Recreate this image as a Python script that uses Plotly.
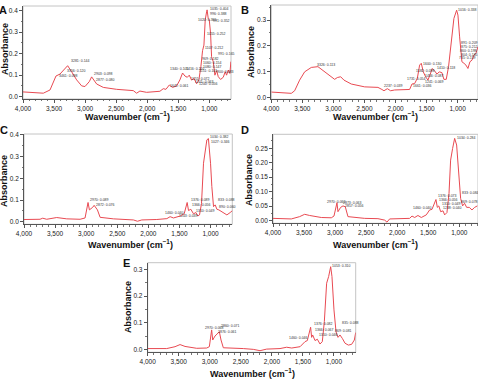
import plotly.graph_objects as go

# ---------------- data ----------------
A_wn = [4000, 3673, 3565, 3512, 3469, 3405, 3351, 3281, 3217, 3136, 3055, 3002, 2932, 2895, 2814, 2707,
        2492, 2224, 2170, 2117, 2010, 1795, 1741, 1698, 1644, 1591, 1526, 1473, 1430, 1392, 1354, 1322,
        1285, 1247, 1204, 1167, 1135, 1108, 1086, 1065, 1043, 1035, 1017, 1000, 979, 963, 936, 909,
        882, 855, 818, 775, 743, 721, 694, 668, 652]
A_abs = [0.022, 0.016, 0.031, 0.070, 0.096, 0.105, 0.124, 0.144, 0.116, 0.078, 0.050, 0.047, 0.070, 0.092, 0.059, 0.043,
         0.034, 0.028, 0.016, 0.026, 0.020, 0.025, 0.037, 0.034, 0.054, 0.043, 0.050, 0.078, 0.110, 0.096, 0.090, 0.100,
         0.077, 0.085, 0.060, 0.078, 0.140, 0.214, 0.240, 0.357, 0.395, 0.404, 0.364, 0.357, 0.295, 0.186, 0.163, 0.100,
         0.121, 0.093, 0.080, 0.090, 0.116, 0.100, 0.124, 0.108, 0.163]

B_wn = [4000, 3678, 3624, 3544, 3463, 3356, 3249, 3141, 3034, 2980, 2937, 2883, 2830, 2712, 2497, 2283,
        2219, 2186, 2132, 2079, 2014, 1853, 1773, 1735, 1692, 1649, 1612, 1585, 1553, 1515, 1478, 1446,
        1408, 1371, 1333, 1296, 1253, 1221, 1183, 1146, 1103, 1060, 1016, 995, 968, 931, 898, 866,
        834, 802, 769, 737, 705, 673]
B_abs = [0.022, 0.017, 0.027, 0.068, 0.100, 0.117, 0.120, 0.100, 0.078, 0.071, 0.078, 0.081, 0.068, 0.053, 0.042, 0.040,
         0.032, 0.027, 0.035, 0.027, 0.030, 0.032, 0.032, 0.053, 0.055, 0.075, 0.126, 0.133, 0.100, 0.081, 0.068, 0.088,
         0.113, 0.104, 0.091, 0.100, 0.097, 0.071, 0.071, 0.120, 0.223, 0.306, 0.338, 0.319, 0.235, 0.139, 0.133, 0.126,
         0.113, 0.139, 0.145, 0.165, 0.171, 0.197]

C_wn = [4000, 3742, 3699, 3635, 3474, 3313, 3098, 3018, 2970, 2948, 2895, 2872, 2819, 2776, 2562, 2240,
        2175, 2106, 1864, 1703, 1650, 1596, 1489, 1424, 1376, 1354, 1317, 1274, 1236, 1204, 1177, 1145,
        1113, 1086, 1059, 1034, 1020, 1000, 979, 952, 925, 898, 866, 818, 737, 684, 647]
C_abs = [0.011, 0.012, 0.017, 0.012, 0.020, 0.014, 0.012, 0.018, 0.089, 0.055, 0.067, 0.076, 0.055, 0.021, 0.014, 0.009,
         0.003, 0.009, 0.011, 0.015, 0.024, 0.018, 0.027, 0.037, 0.089, 0.052, 0.058, 0.037, 0.043, 0.027, 0.032, 0.085,
         0.269, 0.330, 0.376, 0.382, 0.345, 0.269, 0.162, 0.070, 0.078, 0.058, 0.055, 0.047, 0.032, 0.043, 0.052]

D_wn = [4000, 3705, 3571, 3490, 3410, 3222, 3061, 3018, 2970, 2954, 2911, 2873, 2836, 2793, 2524, 2310,
        2202, 2165, 2122, 1934, 1800, 1762, 1719, 1666, 1612, 1532, 1478, 1440, 1376, 1354, 1330, 1300,
        1262, 1236, 1199, 1166, 1140, 1108, 1075, 1043, 1011, 979, 947, 915, 882, 839, 796, 753, 710]
D_abs = [0.008, 0.006, 0.014, 0.022, 0.018, 0.011, 0.010, 0.016, 0.062, 0.031, 0.046, 0.051, 0.048, 0.014, 0.008, 0.007,
         0.002, -0.005, 0.006, 0.007, 0.008, 0.016, 0.011, 0.018, 0.011, 0.020, 0.037, 0.039, 0.073, 0.046, 0.051, 0.031,
         0.034, 0.020, 0.028, 0.094, 0.209, 0.249, 0.284, 0.261, 0.163, 0.077, 0.051, 0.060, 0.046, 0.046, 0.037, 0.046, 0.051]

E_wn = [4000, 3694, 3560, 3479, 3399, 3211, 3050, 3007, 2970, 2953, 2916, 2878, 2846, 2819, 2782, 2460,
        2299, 2191, 2084, 1869, 1762, 1681, 1546, 1466, 1429, 1376, 1360, 1343, 1305, 1268, 1225, 1188,
        1155, 1118, 1086, 1053, 1032, 1000, 967, 935, 903, 865, 822, 768, 715, 672, 650]
E_abs = [0.003, 0.003, 0.010, 0.018, 0.011, 0.004, 0.005, 0.010, 0.073, 0.035, 0.050, 0.060, 0.066, 0.035, 0.006, 0.003,
         0.000, -0.005, 0.001, 0.003, 0.008, 0.005, 0.010, 0.029, 0.033, 0.083, 0.045, 0.054, 0.033, 0.038, 0.020, 0.029,
         0.104, 0.248, 0.273, 0.310, 0.273, 0.148, 0.066, 0.045, 0.054, 0.041, 0.023, 0.016, 0.019, 0.035, 0.063]

x_ticks = [4000, 3500, 3000, 2500, 2000, 1500, 1000]
x_tick_labels = ["4,000", "3,500", "3,000", "2,500", "2,000", "1,500", "1,000"]

# peak labels: (wavenumber, absorbance position, text)
A_labels = [(3457, 0.098, "3461: 0.098"), (3323, 0.121, "3356: 0.120"), (3259, 0.166, "3281: 0.144"),
            (2889, 0.105, "2903: 0.098"), (2852, 0.078, "2877: 0.080"), (1660, 0.050, "1641: 0.061"),
            (1660, 0.129, "1340: 0.105"), (1402, 0.127, "1416: 0.110"), (1322, 0.080, "1251: 0.072"),
            (1258, 0.070, "1201: 0.063"), (1204, 0.058, "1200: 0.056"), (1016, 0.406, "1035: 0.404"),
            (1016, 0.384, "996: 0.388"), (1215, 0.357, "1020: 0.365"), (979, 0.353, "991: 0.352"),
            (1070, 0.290, "1055: 0.252"), (1097, 0.228, "1107: 0.212"), (892, 0.200, "991: 0.165"),
            (1156, 0.174, "969: 0.182"), (1140, 0.155, "1060: 0.154"), (1140, 0.140, "1080: 0.147"),
            (1194, 0.119, "1151: 0.101"), (915, 0.115, "900: 0.083")]
B_labels = [(3294, 0.126, "3326: 0.113"), (2220, 0.045, "2237: 0.039"), (1852, 0.071, "1731: 0.054"),
            (1745, 0.045, "1661: 0.036"), (1700, 0.104, "1582: 0.098"), (1595, 0.130, "1600: 0.130"),
            (1560, 0.084, "1456: 0.087"), (1370, 0.114, "1410: 0.118"), (1560, 0.060, "1241: 0.069"),
            (1023, 0.338, "1016: 0.338"), (975, 0.210, "891: 0.209"), (985, 0.195, "875: 0.212"),
            (995, 0.180, "860: 0.198"), (975, 0.165, "804: 0.185"), (1010, 0.152, "735: 0.159")]
C_labels = [(2964, 0.100, "2970: 0.089"), (2873, 0.078, "2872: 0.076"), (1758, 0.043, "1460: 0.040"),
            (1354, 0.100, "1376: 0.089"), (1338, 0.076, "1366: 0.056"), (1274, 0.052, "1310: 0.049"),
            (1543, 0.029, "1243: 0.039"), (1038, 0.388, "1034: 0.382"), (1022, 0.366, "1027: 0.346"),
            (915, 0.100, "833: 0.088"), (890, 0.067, "890: 0.060")]
D_labels = [(3157, 0.066, "2970: 0.062"), (2900, 0.062, "2873: 0.063"), (2870, 0.052, "2857: 0.056"),
            (1773, 0.043, "1460: 0.040"), (1371, 0.085, "1376: 0.073"), (1354, 0.071, "1366: 0.056"),
            (1317, 0.057, "1310: 0.049"), (1300, 0.043, "1238: 0.040"), (1064, 0.284, "1034: 0.284"),
            (985, 0.097, "833: 0.084"), (1000, 0.063, "869: 0.078")]
E_labels = [(3115, 0.079, "2970: 0.068"), (2847, 0.088, "2860: 0.071"), (2900, 0.064, "2876: 0.061"),
            (1763, 0.044, "1460: 0.046"), (1360, 0.095, "1376: 0.082"), (1332, 0.073, "1366: 0.067"),
            (1278, 0.055, "1310: 0.046"), (1059, 0.313, "1053: 0.310"), (909, 0.100, "835: 0.088"),
            (1016, 0.069, "869: 0.081")]

# ---------------- layout helpers ----------------
W, H = 478, 381
def px(x):
    return x / W
def py(y):
    return 1 - y / H

LINE = "rgb(232,74,82)"
FONT = "Arial"

panels = [
    dict(letter="A", wn=A_wn, ab=A_abs, labels=A_labels, xd=(23, 231), yd=(6, 99),
         xr=[4000, 650], yr=[-0.011, 0.422], dt=0.1, fmt=".1f",
         letter_pos=(3, 10), abs_pos=(5, 49), wav_pos=(127, 115.5)),
    dict(letter="B", wn=B_wn, ab=B_abs, labels=B_labels, xd=(271.3, 478), yd=(5, 99.3),
         xr=[4000, 672], yr=[-0.006, 0.358], dt=0.1, fmt=".1f",
         letter_pos=(245, 10), abs_pos=(251, 52), wav_pos=(375, 115.5)),
    dict(letter="C", wn=C_wn, ab=C_abs, labels=C_labels, xd=(24, 232.3), yd=(134, 224.3),
         xr=[4000, 650], yr=[-0.011, 0.403], dt=0.1, fmt=".1f",
         letter_pos=(4, 130), abs_pos=(4, 181), wav_pos=(130, 244)),
    dict(letter="D", wn=D_wn, ab=D_abs, labels=D_labels, xd=(273, 478), yd=(134.3, 223.3),
         xr=[4000, 699], yr=[-0.009, 0.298], dt=0.05, fmt=".2f",
         letter_pos=(245, 130), abs_pos=(249, 180), wav_pos=(375, 244)),
    dict(letter="E", wn=E_wn, ab=E_abs, labels=E_labels, xd=(147.7, 355.7), yd=(262.7, 352.3),
         xr=[4000, 650], yr=[-0.011, 0.325], dt=0.1, fmt=".1f",
         letter_pos=(126, 263), abs_pos=(128, 307), wav_pos=(252, 373)),
]

fig = go.Figure()
annotations = []
shapes = []
layout = dict(width=W, height=H, margin=dict(l=0, r=0, t=0, b=0), autosize=False,
              paper_bgcolor="white", plot_bgcolor="white", showlegend=False,
              font=dict(family=FONT, color="#222"))

for i, p in enumerate(panels, start=1):
    sfx = "" if i == 1 else str(i)
    xa, ya = "x" + sfx, "y" + sfx
    fig.add_trace(go.Scatter(x=p["wn"], y=p["ab"], mode="lines",
                             line=dict(color=LINE, width=1), xaxis=xa, yaxis=ya,
                             hoverinfo="skip"))
    layout["xaxis" + sfx] = dict(
        domain=[px(p["xd"][0]), px(p["xd"][1])], range=p["xr"], anchor=ya,
        tickvals=x_ticks, ticktext=x_tick_labels, ticks="outside", ticklen=3,
        tickcolor="#555", tickwidth=0.8, showline=True, linecolor="#555", linewidth=0.8,
        showgrid=False, zeroline=False, tickfont=dict(size=6.5, family=FONT, color="#222"),
        minor=dict(dtick=100, ticks="outside", ticklen=1.5, tickcolor="#777", tickwidth=0.6, showgrid=False),
        automargin=False, fixedrange=True)
    layout["yaxis" + sfx] = dict(
        domain=[py(p["yd"][1]), py(p["yd"][0])], range=p["yr"], anchor=xa,
        dtick=p["dt"], tick0=0, tickformat=p["fmt"], ticks="outside", ticklen=3,
        tickcolor="#555", tickwidth=0.8, showline=True, linecolor="#555", linewidth=0.8,
        showgrid=False, zeroline=False, tickfont=dict(size=6.5, family=FONT, color="#222"),
        minor=dict(dtick=p["dt"] / 2, ticks="outside", ticklen=1.5, tickcolor="#777", tickwidth=0.6, showgrid=False),
        automargin=False, fixedrange=True)
    shapes.append(dict(type="rect", xref=xa + " domain", yref=ya + " domain", x0=0, x1=1, y0=0, y1=1,
                       line=dict(color="#c4c4c4", width=1), layer="below"))
    annotations.append(dict(text="<b>%s</b>" % p["letter"], x=px(p["letter_pos"][0]), y=py(p["letter_pos"][1]),
                            xref="paper", yref="paper", showarrow=False, xanchor="center", yanchor="middle",
                            font=dict(size=11, family=FONT, color="#111")))
    annotations.append(dict(text="<b>Absorbance</b>", x=px(p["abs_pos"][0]), y=py(p["abs_pos"][1]),
                            xref="paper", yref="paper", showarrow=False, textangle=-90,
                            xanchor="center", yanchor="middle", font=dict(size=9, family=FONT, color="#111")))
    annotations.append(dict(text="<b>Wavenumber (cm<sup>−1</sup>)</b>", x=px(p["wav_pos"][0]), y=py(p["wav_pos"][1]),
                            xref="paper", yref="paper", showarrow=False,
                            xanchor="center", yanchor="middle", font=dict(size=9, family=FONT, color="#111")))
    for (wx, vy, t) in p["labels"]:
        annotations.append(dict(text=t, x=wx, y=vy, xref=xa, yref=ya, showarrow=False,
                                xanchor="left", yanchor="middle",
                                font=dict(size=3.5, family=FONT, color="#333")))

layout["annotations"] = annotations
layout["shapes"] = shapes
fig.update_layout(**layout)
fig.write_html("out.html")
